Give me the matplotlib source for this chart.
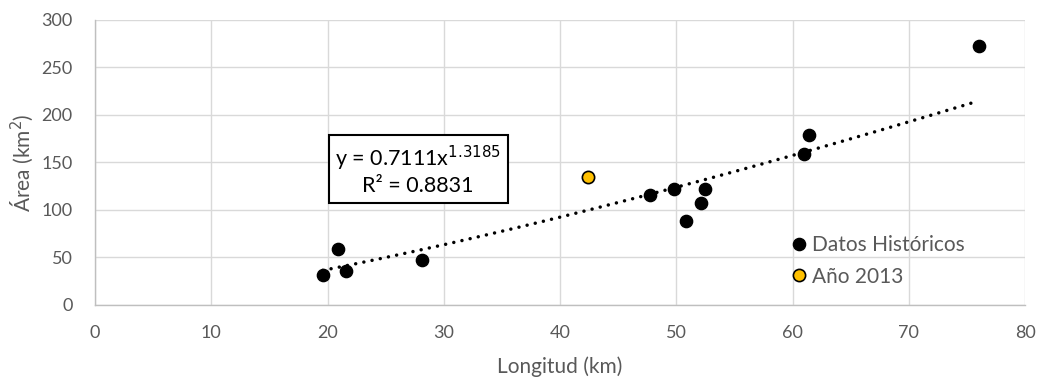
import numpy as np
import matplotlib
matplotlib.use("Agg")
import matplotlib.pyplot as plt
from matplotlib.lines import Line2D

plt.rcParams['font.family'] = ['Lato', 'DejaVu Sans']

# Historical records: river length (km) vs. basin area (km²)
hist_longitud = [19.6, 20.9, 21.6, 28.1, 47.7, 49.8, 50.8, 52.1, 52.5, 61.0, 61.4, 76.0]
hist_area = [31.0, 59.0, 35.6, 46.8, 115.0, 121.6, 88.0, 107.0, 122.0, 158.4, 178.4, 272.8]

# 2013 observation
longitud_2013 = [42.4]
area_2013 = [134.5]

# Power-law trend fitted to historical data
coef_a = 0.7111
coef_b = 1.3185
r2 = 0.8831

x_ticks = [0, 10, 20, 30, 40, 50, 60, 70, 80]
y_ticks = [0, 50, 100, 150, 200, 250, 300]

grey_text = '#595959'

fig = plt.figure(figsize=(10.43, 3.83), dpi=100)
ax = fig.add_axes([95 / 1043, 78.5 / 383, 930 / 1043, 284.5 / 383])

ax.set_xlim(0, 80)
ax.set_ylim(0, 300)
ax.set_xticks(x_ticks)
ax.set_yticks(y_ticks)
ax.grid(True, color='#d9d9d9', linewidth=1.0)
ax.set_axisbelow(True)
for side in ('top', 'right'):
    ax.spines[side].set_visible(False)
for side in ('left', 'bottom'):
    ax.spines[side].set_color('#bfbfbf')
    ax.spines[side].set_linewidth(1.0)
ax.tick_params(axis='both', length=0, labelsize=13, labelcolor=grey_text)
ax.tick_params(axis='x', pad=15)
ax.tick_params(axis='y', pad=16)

# Trend line over the historical range
xt = np.linspace(min(hist_longitud), max(hist_longitud), 200)
yt = coef_a * xt ** coef_b
ax.plot(xt, yt, color='black', linewidth=2.5, linestyle=(0, (0.01, 2.4)),
        dash_capstyle='round', zorder=2)

ax.scatter(hist_longitud, hist_area, s=78, color='black', zorder=3,
           label='Datos Históricos')
ax.scatter(longitud_2013, area_2013, s=78, color='#FFC000', edgecolor='black',
           linewidth=1.2, zorder=3, label='Año 2013')

ax.set_xlabel('Longitud (km)', fontsize=15, color=grey_text, labelpad=11)
ax.set_ylabel('Área (km$^2$)', fontsize=15, color=grey_text, labelpad=4)

ax.text(27.8, 141.6,
        'y = %.4fx$^{%.4f}$\nR² = %.4f' % (coef_a, coef_b, r2),
        ha='center', va='center', fontsize=15.5, color='black',
        multialignment='center', zorder=4,
        bbox=dict(boxstyle='square,pad=0.3', facecolor='white',
                  edgecolor='black', linewidth=1.5))

handles = [
    Line2D([], [], marker='o', linestyle='none', markersize=8.8,
           markerfacecolor='black', markeredgecolor='black'),
    Line2D([], [], marker='o', linestyle='none', markersize=8.8,
           markerfacecolor='#FFC000', markeredgecolor='black', markeredgewidth=1.2),
]
leg = ax.legend(handles, ['Datos Históricos', 'Año 2013'], loc='center left',
                bbox_to_anchor=(0.746, 0.153), frameon=False, fontsize=15,
                handletextpad=0.1, handlelength=1.0, labelspacing=0.55,
                borderaxespad=0, borderpad=0)
for t in leg.get_texts():
    t.set_color(grey_text)

fig.savefig('out.png', dpi=100)
